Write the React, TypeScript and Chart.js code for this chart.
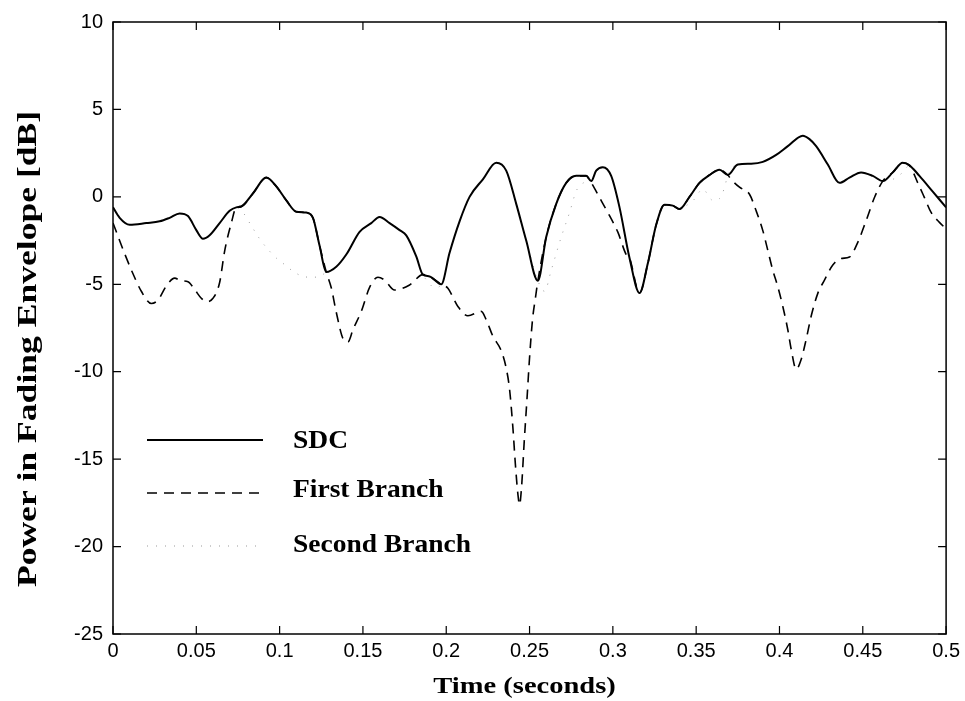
import React, { useEffect, useRef } from 'react';
import { Chart, registerables } from 'chart.js';

Chart.register(...registerables);

// ---- Data ----
const sdcTime = [0, 0.004, 0.010, 0.020, 0.028, 0.034, 0.040, 0.045, 0.050, 0.054, 0.058, 0.064, 0.070, 0.074, 0.077, 0.084, 0.092, 0.098, 0.104, 0.110, 0.116, 0.120, 0.124, 0.128, 0.134, 0.140, 0.148, 0.155, 0.160, 0.166, 0.172, 0.176, 0.182, 0.186, 0.190, 0.197, 0.202, 0.208, 0.214, 0.222, 0.230, 0.236, 0.242, 0.248, 0.255, 0.260, 0.266, 0.272, 0.278, 0.284, 0.287, 0.290, 0.294, 0.299, 0.304, 0.310, 0.316, 0.321, 0.326, 0.331, 0.336, 0.340, 0.346, 0.352, 0.358, 0.364, 0.369, 0.375, 0.383, 0.390, 0.398, 0.405, 0.414, 0.418, 0.422, 0.429, 0.436, 0.442, 0.449, 0.456, 0.462, 0.468, 0.474, 0.478, 0.484, 0.492, 0.500];
const sdcPower = [-0.6, -1.2, -1.6, -1.5, -1.4, -1.2, -0.95, -1.1, -1.9, -2.4, -2.2, -1.5, -0.8, -0.6, -0.55, 0.2, 1.1, 0.6, -0.2, -0.85, -0.9, -1.2, -2.8, -4.3, -4.0, -3.3, -2.0, -1.5, -1.15, -1.5, -1.9, -2.2, -3.4, -4.45, -4.55, -5.0, -3.2, -1.4, 0.0, 1.0, 1.95, 1.5, -0.4, -2.5, -4.8, -2.3, -0.4, 0.8, 1.2, 1.2, 0.9, 1.5, 1.7, 1.2, -0.6, -3.5, -5.5, -3.8, -1.6, -0.45, -0.5, -0.7, 0.0, 0.8, 1.25, 1.55, 1.25, 1.85, 1.9, 2.0, 2.4, 2.9, 3.5, 3.3, 2.9, 1.85, 0.8, 1.1, 1.4, 1.2, 0.9, 1.4, 1.95, 1.8, 1.2, 0.3, -0.6];

const firstTime = [0, 0.002, 0.007, 0.012, 0.017, 0.023, 0.027, 0.032, 0.037, 0.041, 0.045, 0.049, 0.053, 0.056, 0.060, 0.064, 0.067, 0.071, 0.074, 0.077, 0.084, 0.092, 0.098, 0.104, 0.110, 0.116, 0.120, 0.124, 0.128, 0.131, 0.134, 0.138, 0.141, 0.144, 0.149, 0.154, 0.159, 0.163, 0.169, 0.178, 0.186, 0.190, 0.197, 0.201, 0.207, 0.213, 0.221, 0.224, 0.228, 0.233, 0.236, 0.238, 0.240, 0.2415, 0.243, 0.244, 0.2452, 0.2468, 0.2485, 0.250, 0.2518, 0.2535, 0.255, 0.260, 0.266, 0.272, 0.278, 0.284, 0.287, 0.292, 0.298, 0.303, 0.308, 0.310, 0.316, 0.321, 0.326, 0.331, 0.336, 0.340, 0.346, 0.352, 0.358, 0.364, 0.369, 0.371, 0.376, 0.382, 0.386, 0.390, 0.393, 0.396, 0.399, 0.402, 0.405, 0.407, 0.410, 0.413, 0.416, 0.419, 0.423, 0.427, 0.432, 0.437, 0.442, 0.447, 0.452, 0.457, 0.462, 0.468, 0.474, 0.478, 0.483, 0.487, 0.491, 0.496, 0.500];
const firstPower = [-1.5, -2.0, -3.25, -4.4, -5.4, -6.1, -5.9, -5.1, -4.65, -4.8, -4.85, -5.3, -5.8, -6.0, -5.8, -4.9, -3.1, -1.5, -0.6, -0.55, 0.2, 1.1, 0.6, -0.2, -0.85, -0.9, -1.2, -2.8, -4.3, -5.2, -6.6, -8.1, -8.3, -7.6, -6.55, -5.18, -4.6, -4.76, -5.33, -5.04, -4.45, -4.55, -5.0, -5.23, -6.27, -6.8, -6.55, -7.03, -7.97, -8.8, -9.8, -11.0, -13.2, -15.3, -17.0, -17.6, -16.6, -14.0, -11.5, -9.2, -7.0, -5.8, -4.8, -2.3, -0.4, 0.8, 1.2, 1.2, 0.81, -0.04, -1.08, -2.02, -3.3, -3.5, -5.5, -3.8, -1.6, -0.45, -0.5, -0.7, 0.0, 0.8, 1.25, 1.55, 1.25, 1.0, 0.55, 0.15, -0.8, -1.93, -3.06, -4.2, -5.14, -6.27, -7.6, -8.7, -9.86, -9.3, -8.16, -6.83, -5.52, -4.76, -3.9, -3.53, -3.44, -2.6, -1.36, -0.04, 0.9, 1.4, 1.95, 1.8, 0.8, -0.04, -0.89, -1.46, -1.83];

const secondTime = [0, 0.004, 0.010, 0.020, 0.028, 0.034, 0.040, 0.045, 0.050, 0.054, 0.058, 0.064, 0.070, 0.074, 0.078, 0.083, 0.088, 0.093, 0.098, 0.102, 0.108, 0.114, 0.120, 0.125, 0.128, 0.134, 0.140, 0.148, 0.155, 0.160, 0.166, 0.172, 0.176, 0.182, 0.186, 0.189, 0.193, 0.197, 0.202, 0.208, 0.214, 0.222, 0.230, 0.236, 0.242, 0.248, 0.255, 0.259, 0.263, 0.269, 0.274, 0.278, 0.281, 0.284, 0.287, 0.290, 0.294, 0.299, 0.304, 0.310, 0.316, 0.321, 0.326, 0.331, 0.336, 0.340, 0.344, 0.348, 0.354, 0.360, 0.364, 0.367, 0.369, 0.375, 0.383, 0.390, 0.398, 0.405, 0.414, 0.418, 0.422, 0.429, 0.436, 0.442, 0.449, 0.456, 0.462, 0.468, 0.474, 0.478, 0.484, 0.492, 0.500];
const secondPower = [-0.6, -1.2, -1.6, -1.5, -1.4, -1.2, -0.95, -1.1, -1.9, -2.4, -2.2, -1.5, -0.8, -0.6, -0.89, -1.65, -2.4, -3.0, -3.5, -3.8, -4.25, -4.55, -4.6, -4.5, -4.3, -4.0, -3.3, -2.0, -1.5, -1.15, -1.5, -1.9, -2.2, -3.4, -4.45, -4.85, -5.2, -5.0, -3.2, -1.4, 0.0, 1.0, 1.95, 1.5, -0.4, -2.5, -4.8, -5.4, -4.2, -2.3, -0.9, 0.33, 0.71, 0.85, 0.9, 1.5, 1.7, 1.2, -0.6, -3.5, -5.5, -3.8, -1.6, -0.45, -0.5, -0.7, -0.5, -0.23, 0.43, -0.2, -0.1, 0.53, 1.25, 1.85, 1.9, 2.0, 2.4, 2.9, 3.5, 3.3, 2.9, 1.85, 0.8, 1.1, 1.4, 1.2, 0.9, 1.0, 1.4, 1.8, 1.2, 0.3, -0.6];

const seriesNames = ['SDC', 'First Branch', 'Second Branch'];
const xTickValues = [0, 0.05, 0.1, 0.15, 0.2, 0.25, 0.3, 0.35, 0.4, 0.45, 0.5];
const xTickLabels = ['0', '0.05', '0.1', '0.15', '0.2', '0.25', '0.3', '0.35', '0.4', '0.45', '0.5'];
const yTickValues = [-25, -20, -15, -10, -5, 0, 5, 10];
const yTickLabels = ['-25', '-20', '-15', '-10', '-5', '0', '5', '10'];
const xTitle = 'Time (seconds)';
const yTitle = 'Power in Fading Envelope [dB]';

const toPoints = (ts: number[], vs: number[]) => ts.map((t, i) => ({ x: t, y: vs[i] }));

const SERIF = '"Liberation Serif", "Times New Roman", Times, serif';
const SANS = '"Liberation Sans", Arial, Helvetica, sans-serif';

const framePlugin = {
  id: 'matlabFrame',
  afterDraw(chart: any) {
    const { ctx, chartArea: a, scales } = chart;
    const xs = scales.x;
    const ys = scales.y;
    ctx.save();
    ctx.setLineDash([]);
    ctx.strokeStyle = '#000';
    ctx.lineWidth = 1.5;
    ctx.strokeRect(a.left, a.top, a.right - a.left, a.bottom - a.top);
    ctx.lineWidth = 1.2;
    const tl = 8;
    ctx.beginPath();
    xTickValues.forEach((v) => {
      const px = xs.getPixelForValue(v);
      ctx.moveTo(px, a.bottom);
      ctx.lineTo(px, a.bottom - tl);
      ctx.moveTo(px, a.top);
      ctx.lineTo(px, a.top + tl);
    });
    yTickValues.forEach((v) => {
      const py = ys.getPixelForValue(v);
      ctx.moveTo(a.left, py);
      ctx.lineTo(a.left + tl, py);
      ctx.moveTo(a.right, py);
      ctx.lineTo(a.right - tl, py);
    });
    ctx.stroke();

    // axis titles
    ctx.fillStyle = '#000';
    ctx.textAlign = 'center';
    ctx.textBaseline = 'alphabetic';
    ctx.save();
    ctx.font = `bold 23px ${SERIF}`;
    ctx.translate((a.left + a.right) / 2 - 5, 693);
    ctx.scale(1.24, 1);
    ctx.fillText(xTitle, 0, 0);
    ctx.restore();

    ctx.save();
    ctx.font = `bold 28px ${SERIF}`;
    ctx.translate(36, 349);
    ctx.rotate(-Math.PI / 2);
    ctx.scale(1.27, 1);
    ctx.fillText(yTitle, 0, 0);
    ctx.restore();

    // legend inside the plot
    const lineY = [440, 493, 546];
    const textY = [448, 497, 552];
    chart.data.datasets.forEach((ds: any, i: number) => {
      ctx.save();
      ctx.strokeStyle = ds.borderColor;
      ctx.lineWidth = ds.borderWidth;
      ctx.setLineDash(ds.borderDash || []);
      ctx.beginPath();
      ctx.moveTo(147, lineY[i]);
      ctx.lineTo(263, lineY[i]);
      ctx.stroke();
      ctx.restore();
      ctx.save();
      ctx.font = `bold 25px ${SERIF}`;
      ctx.textAlign = 'left';
      ctx.fillStyle = '#000';
      ctx.translate(293, textY[i]);
      ctx.scale(1.1, 1);
      ctx.fillText(ds.label, 0, 0);
      ctx.restore();
    });
    ctx.restore();
  },
};

export default function App() {
  const canvasRef = useRef<HTMLCanvasElement | null>(null);

  useEffect(() => {
    if (!canvasRef.current) return;
    const chart = new Chart(canvasRef.current, {
      type: 'line',
      data: {
        datasets: [
          {
            label: seriesNames[0],
            data: toPoints(sdcTime, sdcPower),
            borderColor: '#000',
            borderWidth: 2,
            pointRadius: 0,
            fill: false,
            cubicInterpolationMode: 'monotone',
          },
          {
            label: seriesNames[1],
            data: toPoints(firstTime, firstPower),
            borderColor: '#000',
            borderWidth: 1.6,
            borderDash: [10, 7],
            pointRadius: 0,
            fill: false,
            cubicInterpolationMode: 'monotone',
          },
          {
            label: seriesNames[2],
            data: toPoints(secondTime, secondPower),
            borderColor: '#999',
            borderWidth: 1,
            borderDash: [1, 8],
            pointRadius: 0,
            fill: false,
            cubicInterpolationMode: 'monotone',
          },
        ],
      },
      options: {
        animation: false,
        responsive: true,
        maintainAspectRatio: false,
        layout: { padding: { top: 16, right: 17, left: 0, bottom: 0 } },
        plugins: { legend: { display: false }, tooltip: { enabled: false } },
        scales: {
          x: {
            type: 'linear',
            min: 0,
            max: 0.5,
            afterBuildTicks: (s: any) => {
              s.ticks = xTickValues.map((value) => ({ value }));
            },
            afterFit: (s: any) => {
              s.height = 67;
            },
            grid: { display: false, drawTicks: false },
            border: { display: false },
            ticks: {
              color: '#000',
              font: { family: SANS, size: 20 },
              padding: 5,
              maxRotation: 0,
              autoSkip: false,
              callback: (_v: any, i: number) => xTickLabels[i],
            },
          },
          y: {
            type: 'linear',
            min: -25,
            max: 10,
            afterBuildTicks: (s: any) => {
              s.ticks = yTickValues.map((value) => ({ value }));
            },
            afterFit: (s: any) => {
              s.width = 113;
            },
            grid: { display: false, drawTicks: false },
            border: { display: false },
            ticks: {
              color: '#000',
              font: { family: SANS, size: 20 },
              padding: 10,
              autoSkip: false,
              callback: (_v: any, i: number) => yTickLabels[i],
            },
          },
        },
      },
      plugins: [framePlugin],
    } as any);
    return () => chart.destroy();
  }, []);

  return (
    <div style={{ position: 'fixed', left: 0, top: 0, width: 965, height: 701, background: '#fff' }}>
      <canvas ref={canvasRef} />
    </div>
  );
}
